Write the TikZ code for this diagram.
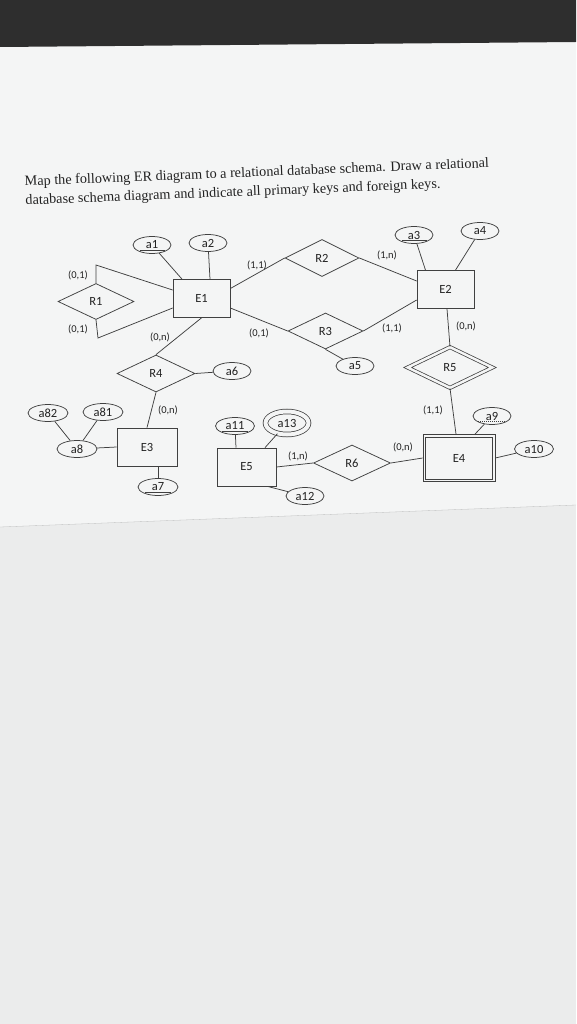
\documentclass[tikz,border=0pt]{standalone}
\usepackage{fontspec}
\setmainfont{Liberation Serif}
\newfontfamily\diag{Carlito}
\usetikzlibrary{shapes.geometric}
\definecolor{linec}{HTML}{404040}
\definecolor{txtc}{HTML}{222222}
\definecolor{paperc}{HTML}{F4F5F5}
\definecolor{paperb}{HTML}{EBECEC}
\definecolor{bandc}{HTML}{2E2E2E}
\begin{document}
\begin{tikzpicture}[x=1pt,y=-1pt,
  ln/.style={draw=linec, line width=0.75pt},
  attr/.style={ellipse, draw=linec, line width=0.75pt, minimum width=38pt, minimum height=17pt, inner sep=0pt, font=\diag\fontsize{12.5}{13}\selectfont, text=txtc},
  ent/.style={rectangle, draw=linec, line width=0.75pt, minimum width=57pt, minimum height=38pt, inner sep=0pt, font=\diag\fontsize{12.5}{13}\selectfont, text=txtc},
  rel/.style={diamond, draw=linec, line width=0.75pt, minimum width=76pt, minimum height=36pt, inner sep=0pt, font=\diag\fontsize{12.5}{13}\selectfont, text=txtc},
  card/.style={font=\diag\fontsize{10.5}{11}\selectfont, text=txtc, inner sep=0pt},
  ttl/.style={font=\fontsize{14.2}{16}\selectfont, text=txtc, align=left, anchor=west, inner sep=0pt, rotate=2.3},
  keyline/.style={draw=linec, line width=0.75pt},
]
\useasboundingbox (0,0) rectangle (576,1024);
% photo background
\fill[paperb] (0,0) rectangle (576,1024);
\fill[paperc] (0,44) -- (576,40) -- (576,505) -- (0,527) -- cycle;
\fill[bandc] (0,0) -- (576,0) -- (576,42) -- (0,47) -- cycle;
\draw[draw=paperb!80!black, line width=0.3pt] (0,527) -- (576,505);

% title
\node[ttl] (title) at (25,192) {Map the following ER diagram to a relational database schema. Draw a relational\\[3pt]database schema diagram and indicate all primary keys and foreign keys.};

% entities
\node[ent] (E1) at (201.5,298.5) {E1};
\node[ent] (E2) at (445.5,289.5) {E2};
\node[ent, minimum width=60pt] (E3) at (147,447) {E3};
\node[ent, minimum width=59pt] (E5) at (246.5,467) {E5};
\node[ent, minimum width=72pt, minimum height=47pt] (E4) at (459,458) {E4};
\draw[ln] ([xshift=3pt,yshift=-3pt]E4.north west) rectangle ([xshift=-3pt,yshift=3pt]E4.south east);

% relationships
\node[rel] (R1) at (96,301.5) {R1};
\node[rel, minimum width=74pt, minimum height=37pt] (R2) at (322,258) {R2};
\node[rel, minimum width=75pt] (R3) at (325.5,331) {R3};
\node[rel, minimum width=78pt, minimum height=37pt] (R4) at (156,373.5) {R4};
\node[rel, double=paperc, double distance=2.5pt, minimum width=85pt, minimum height=41pt] (R5) at (450,367.5) {R5};
\node[rel, minimum width=77pt] (R6) at (352,463) {R6};

% attributes
\node[attr] (a1) at (152,245) {a1};
\node[attr] (a2) at (208,243) {a2};
\node[attr] (a3) at (414,235) {a3};
\node[attr] (a4) at (480,231) {a4};
\node[attr] (a5) at (355,366) {a5};
\node[attr] (a6) at (232,371) {a6};
\node[attr, minimum width=40pt] (a82) at (48,413) {a82};
\node[attr, minimum width=40pt] (a81) at (103,412) {a81};
\node[attr, minimum width=40pt] (a8) at (77,449) {a8};
\node[attr, minimum width=40pt] (a7) at (158,487) {a7};
\node[attr, minimum width=39pt] (a11) at (235,426) {a11};
\node[attr, double=paperc, double distance=4pt, minimum width=43pt, minimum height=23pt] (a13) at (287,423) {a13};
\node[attr] (a12) at (305,496) {a12};
\node[attr] (a9) at (492,416) {a9};
\node[attr, minimum width=39pt] (a10) at (534,449) {a10};

% key underlines
\draw[keyline] ([xshift=-12pt,yshift=-5.7pt]a1.center) -- ([xshift=13pt,yshift=-5.7pt]a1.center);
\draw[keyline] ([xshift=-12pt,yshift=-5.7pt]a3.center) -- ([xshift=13pt,yshift=-5.7pt]a3.center);
\draw[keyline] ([xshift=-13pt,yshift=-5.7pt]a7.center) -- ([xshift=13pt,yshift=-5.7pt]a7.center);
\draw[keyline] ([xshift=-13pt,yshift=-5.7pt]a11.center) -- ([xshift=13pt,yshift=-5.7pt]a11.center);
\draw[keyline, dash pattern=on 1.2pt off 0.8pt] ([xshift=-14pt,yshift=-5.7pt]a9.center) -- ([xshift=13pt,yshift=-5.7pt]a9.center);

% bend points for the recursive relationship R1
\coordinate (r1t) at (96,265);
\coordinate (r1b) at (98,338);

% connectors
\draw[ln] (R1.north) -- (r1t) -- ([yshift=8.5pt]E1.west);
\draw[ln] (R1.south) -- (r1b) -- ([yshift=-9.5pt]E1.west);
\draw[ln] (a1) -- ([xshift=-19.5pt]E1.north);
\draw[ln] (a2) -- ([xshift=8.5pt]E1.north);
\draw[ln] ([yshift=10pt]E1.east) -- (R2.west);
\draw[ln] (R2.east) -- ([yshift=8.5pt]E2.west);
\draw[ln] ([yshift=-9.5pt]E1.east) -- (R3.west);
\draw[ln] (R3.east) -- ([yshift=-10.5pt]E2.west);
\draw[ln] (R3.south) -- (a5);
\draw[ln] (a3) -- ([xshift=-20pt]E2.north);
\draw[ln] (a4) -- ([xshift=10pt]E2.north);
\draw[ln] ([xshift=1.5pt]E2.south) -- (R5.north);
\draw[ln] (E1.south) -- (R4.north);
\draw[ln] (R4.east) -- (a6);
\draw[ln] (R4.south) -- (E3.north);
\draw[ln] (a8) -- (E3.west);
\draw[ln] (a82) -- (a8);
\draw[ln] (a81) -- (a8);
\draw[ln] ([xshift=11pt]E3.south) -- (a7);
\draw[ln] (a11) -- ([xshift=-10.5pt]E5.north);
\draw[ln] (a13) -- ([xshift=18.5pt]E5.north);
\draw[ln] ([xshift=-9pt]E5.south east) -- (a12);
\draw[ln] (E5.east) -- (R6.west);
\draw[ln] (R6.east) -- (E4.west);
\draw[ln] (R5.south) -- ([xshift=-3pt]E4.north);
\draw[ln] (a9) -- ([xshift=16pt]E4.north);
\draw[ln] (a10) -- (E4.east);

% cardinalities
\node[card] (c1) at (78,275) {(0,1)};
\node[card] (c2) at (78,329) {(0,1)};
\node[card] (c3) at (257,265) {(1,1)};
\node[card] (c4) at (387,255) {(1,n)};
\node[card] (c5) at (259,333) {(0,1)};
\node[card] (c6) at (392,328) {(1,1)};
\node[card] (c7) at (160,337) {(0,n)};
\node[card] (c8) at (466,326) {(0,n)};
\node[card] (c9) at (168,410) {(0,n)};
\node[card] (c10) at (433,410) {(1,1)};
\node[card] (c11) at (298,456) {(1,n)};
\node[card] (c12) at (403,447) {(0,n)};
\end{tikzpicture}
\end{document}
